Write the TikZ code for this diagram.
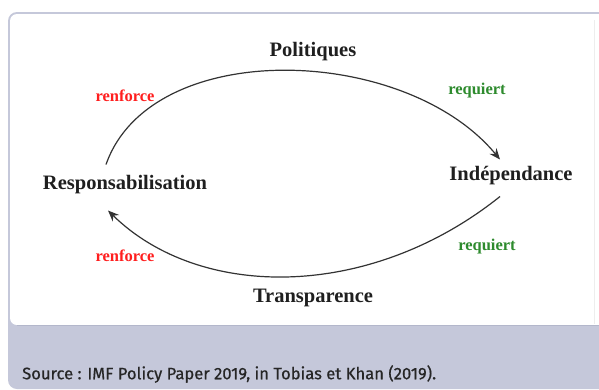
\documentclass[tikz,border=0pt]{standalone}
\usepackage{fontspec}
\setmainfont{Liberation Serif}
\newfontfamily\sourcefont[FakeBold=0.6]{Fira Sans}
\usetikzlibrary{arrows.meta}
\definecolor{bandgray}{HTML}{C5C8DA}
\definecolor{bandline}{HTML}{B3B7CB}
\definecolor{labelred}{HTML}{FF1E1E}
\definecolor{labelgreen}{HTML}{2E8B2E}
\begin{document}
\begin{tikzpicture}[x=1pt,y=-1pt,
    concept/.style={font=\fontsize{20.5}{24}\selectfont\bfseries, text=black!88, inner sep=2pt},
    verb/.style={font=\fontsize{16.5}{19}\selectfont\bfseries, inner sep=1pt},
    cyclearrow/.style={-{Stealth[length=11pt,width=9pt]}, line width=1.2pt, black!80}]
    \useasboundingbox (0,0) rectangle (599,389);
    % Card
    \fill[white] (0,0) rectangle (599,389);
    \fill[bandgray, rounded corners=9pt] (8,12) rectangle (640,389);
    \fill[white, rounded corners=7pt] (10,14) rectangle (630,325);
    \draw[bandline, line width=1pt] (17,325.5) -- (599,325.5);
    \draw[black!7] (594,20) -- (594,324);

    % Concepts
    \node[concept] (politiques) at (313,52) {Politiques};
    \node[concept] (independance) at (511,176) {Indépendance};
    \node[concept] (responsabilisation) at (125,185) {Responsabilisation};
    \node[concept] (transparence) at (313,298) {Transparence};

    % Upper arc
    \draw[cyclearrow] ([shift={(-19,-9)}]responsabilisation.north)
        .. controls +(45,-128) and +(-95,-115) .. ([shift={(-11,-5)}]independance.north);
    \node[verb, labelred] (renforcehaut) at (125,96) {renforce};
    \node[verb, labelgreen] (requierthaut) at (477,91) {requiert};

    % Lower arc
    \draw[cyclearrow] ([shift={(-11,9)}]independance.south)
        .. controls +(-130,104) and +(92,90) .. ([shift={(-17,14)}]responsabilisation.south);
    \node[verb, labelgreen] (requiertbas) at (487,247) {requiert};
    \node[verb, labelred] (renforcebas) at (125,256) {renforce};

    % Source
    \node[anchor=west, inner sep=0pt, font=\sourcefont\fontsize{16.6}{19}\selectfont, text=black!85] (source) at (22,374)
        {Source : IMF Policy Paper 2019, in Tobias et Khan (2019).};
\end{tikzpicture}
\end{document}
